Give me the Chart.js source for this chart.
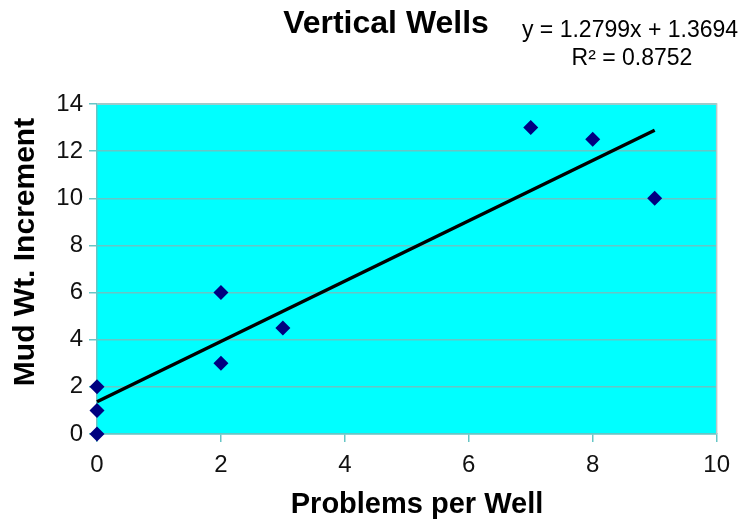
<!DOCTYPE html>
<html>
<head>
<meta charset="utf-8">
<script src="https://cdn.jsdelivr.net/npm/chart.js@4"></script>
<style>
  html, body { margin: 0; padding: 0; background: #ffffff; }
  #wrap { width: 739px; height: 527px; }
</style>
</head>
<body>
<div id="wrap"><canvas id="c" width="739" height="527"></canvas></div>
<script>
// Vertical wells: problems per well vs. mud weight increment
const problemsPerWell = [0, 0, 0, 2, 2, 3, 7, 8, 9];
const mudWtIncrement  = [0, 1, 2, 3, 6, 4.5, 13, 12.5, 10];

// Linear trend line fitted to the points above
const trendSlope = 1.2799;
const trendIntercept = 1.3694;
const trendR2 = 0.8752;

const xTickValues = [0, 2, 4, 6, 8, 10];
const yTickValues = [0, 2, 4, 6, 8, 10, 12, 14];

const chartTitle = 'Vertical Wells';
const xAxisTitle = 'Problems per Well';
const yAxisTitle = 'Mud Wt. Increment';

const FONT = '"Liberation Sans", Arial, Helvetica, sans-serif';
const GRID = '#66c6c6';
const PLOT_BG = '#00ffff';

const points = problemsPerWell.map((x, i) => ({ x: x, y: mudWtIncrement[i] }));
const xMaxData = Math.max(...problemsPerWell);
const trendPoints = [
  { x: 0, y: trendIntercept },
  { x: xMaxData, y: trendIntercept + trendSlope * xMaxData }
];

const plotDecor = {
  id: 'plotDecor',
  beforeDraw(chart) {
    const { ctx, chartArea: a } = chart;
    ctx.save();
    ctx.fillStyle = PLOT_BG;
    ctx.fillRect(a.left, a.top, a.right - a.left, a.bottom - a.top);
    ctx.restore();
  },
  beforeDatasetsDraw(chart) {
    const { ctx, chartArea: a } = chart;
    ctx.save();
    ctx.strokeStyle = '#b8c8c8';
    ctx.lineWidth = 1.5;
    ctx.beginPath();
    ctx.moveTo(a.left, a.top);
    ctx.lineTo(a.right, a.top);
    ctx.lineTo(a.right, a.bottom);
    ctx.stroke();
    ctx.restore();
  },
  afterDraw(chart) {
    const { ctx } = chart;
    ctx.save();
    ctx.fillStyle = '#000000';

    // chart title
    ctx.font = 'bold 32px ' + FONT;
    ctx.textAlign = 'center';
    ctx.textBaseline = 'alphabetic';
    ctx.fillText(chartTitle, 386, 33);

    // trend equation
    ctx.font = '23px ' + FONT;
    ctx.fillText('y = ' + trendSlope.toFixed(4) + 'x + ' + trendIntercept.toFixed(4), 630, 37);
    ctx.fillText('R\u00B2 = ' + trendR2.toFixed(4), 632, 65);

    // axis titles
    ctx.font = 'bold 29px ' + FONT;
    ctx.textBaseline = 'middle';
    ctx.fillText(xAxisTitle, 417, 505);

    ctx.translate(26, 252);
    ctx.rotate(-Math.PI / 2);
    ctx.font = 'bold 30px ' + FONT;
    ctx.fillText(yAxisTitle, 0, 0);
    ctx.restore();
  }
};

new Chart(document.getElementById('c'), {
  type: 'scatter',
  data: {
    datasets: [
      {
        type: 'line',
        data: trendPoints,
        borderColor: '#000000',
        borderWidth: 3.5,
        pointRadius: 0,
        fill: false,
        clip: false,
        order: 2
      },
      {
        data: points,
        pointStyle: 'rectRot',
        pointRadius: 7.5,
        pointHoverRadius: 7.5,
        backgroundColor: '#000080',
        borderColor: '#000080',
        borderWidth: 0,
        clip: false,
        order: 1
      }
    ]
  },
  options: {
    responsive: false,
    animation: false,
    devicePixelRatio: 1,
    layout: { padding: { top: 104, right: 21, left: 0, bottom: 0 } },
    plugins: {
      legend: { display: false },
      title: { display: false },
      tooltip: { enabled: false }
    },
    scales: {
      x: {
        type: 'linear',
        min: 0,
        max: 10,
        afterBuildTicks(scale) { scale.ticks = xTickValues.map(v => ({ value: v })); },
        afterFit(scale) { scale.height = 93; },
        grid: { drawOnChartArea: false, drawTicks: true, tickLength: 8, color: GRID, lineWidth: 1.5 },
        border: { display: true, color: GRID, width: 1.5 },
        ticks: { color: '#111111', padding: 9, font: { family: FONT, size: 24 } },
        title: { display: false }
      },
      y: {
        type: 'linear',
        min: 0,
        max: 14,
        afterBuildTicks(scale) { scale.ticks = yTickValues.map(v => ({ value: v })); },
        afterFit(scale) { scale.width = 97; },
        grid: { drawOnChartArea: true, drawTicks: true, tickLength: 8, color: GRID, lineWidth: 1.5 },
        border: { display: true, color: GRID, width: 1.5 },
        ticks: { color: '#111111', padding: 6, font: { family: FONT, size: 24 } },
        title: { display: false }
      }
    }
  },
  plugins: [plotDecor]
});
</script>
</body>
</html>
